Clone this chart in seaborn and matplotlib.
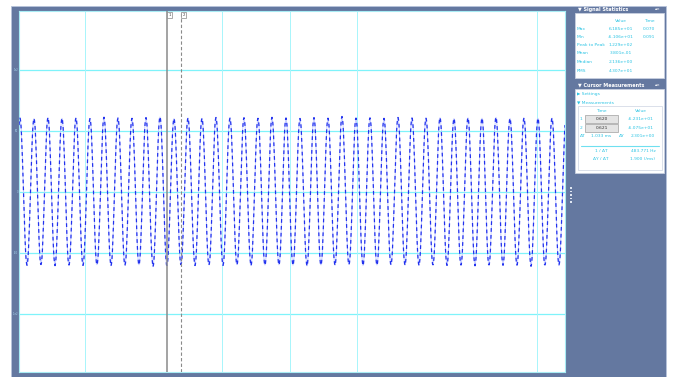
import numpy as np
import pandas as pd
import matplotlib
matplotlib.use("Agg")
import matplotlib.pyplot as plt
import seaborn as sns
from matplotlib.patches import Rectangle
from matplotlib.lines import Line2D

# ---------------- data ----------------
freq_hz = 50.0
duration_s = 0.78
first_peak_s = 0.0014
cycle_peaks = [60.5, 60.2, 61.0, 60.4, 60.8, 60.1, 61.2, 60.6, 60.3, 60.9,
               61.5, 60.2, 60.7, 60.4, 61.0, 60.5, 60.8, 60.3, 61.1, 60.6,
               60.2, 60.9, 60.4, 61.8, 60.5, 60.7, 60.3, 61.0, 60.6, 60.4,
               60.9, 60.2, 60.8, 60.5, 61.2, 60.3, 60.7, 60.4, 60.6]
cycle_troughs = [-59.5, -59.8, -59.2, -60.1, -59.6, -59.9, -59.4, -60.3, -59.7, -59.5,
                 -61.0, -59.8, -59.3, -60.0, -59.6, -59.9, -59.4, -60.2, -59.7, -59.5,
                 -59.8, -60.4, -59.6, -59.9, -59.3, -60.1, -59.7, -59.5, -59.8, -60.0,
                 -59.4, -59.9, -59.6, -60.2, -59.5, -59.8, -59.7, -60.6, -59.5]
y_grid = [-100, -50, 0, 50, 100]
y_tick_labels = ["-1e2", "-50", "0", "50", "1e2"]
x_grid_s = [0.0943, 0.2900, 0.3871, 0.4829, 0.7400]
cursor1_s = 0.211
cursor2_s = 0.231

stat_names = ["Max", "Min", "Peak to Peak", "Mean", "Median", "RMS"]
stat_values = ["6.185e+01", "-6.106e+01", "1.229e+02", "3.801e-01", "2.136e+00", "4.307e+01"]
stat_times = ["0.070", "0.091", "", "", "", ""]

cur_times = ["0.620", "0.621"]
cur_values = ["-6.231e+01", "-6.075e+01"]
delta_t_text = "1.033 ms"
delta_y_text = "2.301e+00"
inv_dt_text = "483.771 Hz"
dy_dt_text = "1.900 (/ms)"

# ---------------- signal samples ----------------
samples_per_cycle = 28
n = int(duration_s * freq_hz * samples_per_cycle) + 1
t = np.linspace(0, duration_s, n)
ph = 2 * np.pi * freq_hz * (t - first_peak_s)
c = np.cos(ph)
k = np.clip(np.floor((t - first_peak_s + 0.5 / freq_hz) * freq_hz).astype(int), 0, len(cycle_peaks) - 1)
pk = np.array(cycle_peaks)[k]
tr = -np.array(cycle_troughs)[k]
v = np.where(c >= 0, c * pk, c * tr)
df = pd.DataFrame({"time": t, "volt": v})

# ---------------- figure ----------------
sns.set_theme(style="white")
plt.rcParams["font.family"] = ["DejaVu Sans"]
W, H = 678, 377
fig = plt.figure(figsize=(W / 100, H / 100), dpi=100)
fig.patch.set_facecolor("white")

def fx(x):
    return x / W

def fy(y):
    return 1 - y / H

FRAME = "#6478a0"
CYAN = "#2cc4e4"
FS = 3.2

def frect(x0, y0, x1, y1, **kw):
    r = Rectangle((fx(x0), fy(y1)), fx(x1) - fx(x0), fy(y0) - fy(y1),
                  transform=fig.transFigure, **kw)
    fig.patches.append(r)
    return r

def ftext(x, y, s, **kw):
    kw.setdefault("fontsize", FS)
    fig.text(fx(x), fy(y), s, **kw)

# outer frame
frect(11, 6, 666, 377, facecolor=FRAME, edgecolor="#b8c4dc", linewidth=0.6, zorder=-10)

# main axes
ax = fig.add_axes([fx(19), fy(372), fx(565) - fx(19), fy(11) - fy(372)])
ax.set_zorder(5)
ax.set_facecolor("white")
for yg in y_grid:
    ax.axhline(yg, color="#7ff3fa", lw=0.9, zorder=1)
for xg in x_grid_s:
    ax.axvline(xg, color="#a8f5fb", lw=0.7, zorder=1)

sns.lineplot(data=df, x="time", y="volt", ax=ax, color="#b4bcff", lw=0.5,
             estimator=None, sort=False, zorder=2)
sns.lineplot(data=df, x="time", y="volt", ax=ax, color="#2232ee", lw=0.9,
             estimator=None, sort=False, zorder=3)
ax.lines[-1].set_linestyle((0, (3, 2.5)))

ax.axvline(cursor1_s, color="#8a8a8a", lw=1.1, zorder=4)
ax.axvline(cursor2_s, color="#8a8a8a", lw=0.8, ls=(0, (3, 2)), zorder=4)
for cx, lab in [(cursor1_s, "1"), (cursor2_s, "2")]:
    ax.text(cx + 0.0025, 146, lab, fontsize=2.8, color="#444444", ha="left", va="top",
            bbox=dict(boxstyle="square,pad=0.25", fc="white", ec="#888888", lw=0.5), zorder=5)

ax.set_xlim(0, duration_s)
ax.set_ylim(-147, 148)
ax.set_xticks([])
ax.set_yticks([])
ax.set_xlabel("")
ax.set_ylabel("")
for sp in ax.spines.values():
    sp.set_color("#a8ecf4")
    sp.set_linewidth(0.8)

# tiny left labels
for yg, lab in zip(y_grid, y_tick_labels):
    ax.text(-0.001, yg, lab, fontsize=1.8, color="#a8d8ee", ha="right", va="center")

# ---------------- right panel: signal statistics ----------------
frect(575, 13, 664, 78, facecolor="white", edgecolor="#c8d0e0", linewidth=0.6, zorder=1)
ftext(578, 9.5, "\u25bc Signal Statistics", fontsize=3.5, color="white", va="center",
      fontweight="bold")
ftext(661, 9.5, "\u25b4\u00d7", color="white", va="center", ha="right")
ftext(621, 21, "Value", color=CYAN, va="center", ha="center")
ftext(649, 21, "Time", color=CYAN, va="center", ha="center")
row_y = [29, 37, 45, 53, 62, 71]
for yy, nm, vv, tt in zip(row_y, stat_names, stat_values, stat_times):
    ftext(577, yy, nm, color=CYAN, va="center")
    ftext(621, yy, vv, color=CYAN, va="center", ha="center")
    if tt:
        ftext(649, yy, tt, color=CYAN, va="center", ha="center")

# ---------------- right panel: cursor measurements ----------------
frect(575, 89, 664, 173, facecolor="white", edgecolor="#c8d0e0", linewidth=0.6, zorder=1)
ftext(578, 85, "\u25bc Cursor Measurements", fontsize=3.5, color="white", va="center",
      fontweight="bold")
ftext(661, 85, "\u25b4\u00d7", color="white", va="center", ha="right")
ftext(577, 94, "\u25b6 Settings", color=CYAN, va="center")
ftext(577, 102, "\u25bc Measurements", color=CYAN, va="center")
frect(578, 106, 662, 170, facecolor="white", edgecolor="#d4dae6", linewidth=0.6, zorder=1)
ftext(601, 111, "Time", color=CYAN, va="center", ha="center")
ftext(641, 111, "Value", color=CYAN, va="center", ha="center")
for yy, lab, tv, vv in zip([119, 128], ["1", "2"], cur_times, cur_values):
    ftext(580, yy, lab, color=CYAN, va="center")
    frect(585, yy - 4, 618, yy + 4, facecolor="#e4e4e4", edgecolor="#a0a0a0", linewidth=0.5, zorder=2)
    ftext(601.5, yy, tv, color="#333333", va="center", ha="center", zorder=3)
    ftext(641, yy, vv, color=CYAN, va="center", ha="center")
ftext(580, 136, "\u0394T", color=CYAN, va="center")
ftext(601, 136, delta_t_text, color=CYAN, va="center", ha="center")
ftext(622, 136, "\u0394Y", color=CYAN, va="center", ha="center")
ftext(643, 136, delta_y_text, color=CYAN, va="center", ha="center")
fig.lines.append(Line2D([fx(581), fx(659)], [fy(146), fy(146)], transform=fig.transFigure,
                        color="#6fe0f0", lw=0.8))
ftext(601, 151, "1 / \u0394T", color=CYAN, va="center", ha="center")
ftext(643, 151, inv_dt_text, color=CYAN, va="center", ha="center")
ftext(601, 159, "\u0394Y / \u0394T", color=CYAN, va="center", ha="center")
ftext(643, 159, dy_dt_text, color=CYAN, va="center", ha="center")

# grip dots
for gy in [188, 191.5, 195, 198.5, 202]:
    fig.patches.append(Rectangle((fx(570.3), fy(gy + 0.7)), fx(1.4), fy(0) - fy(1.4),
                                 transform=fig.transFigure, facecolor="#dfe6f2",
                                 edgecolor="none", zorder=2))

fig.savefig("out.png", dpi=100, facecolor="white")
